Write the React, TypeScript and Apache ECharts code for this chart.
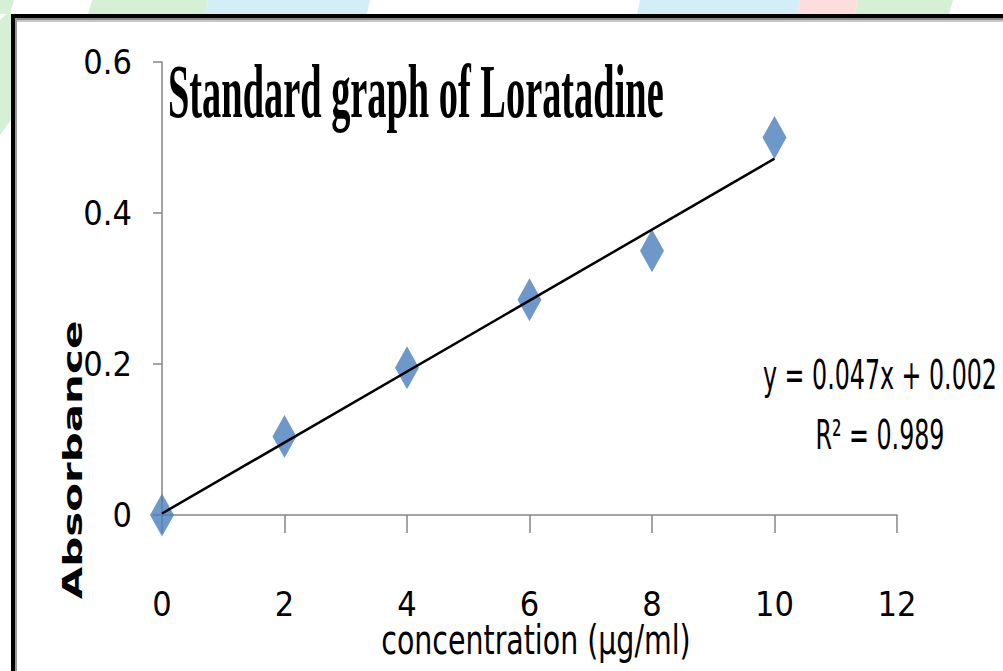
import React, { useEffect, useRef } from "react";
import * as echarts from "echarts";

const concentration = [0, 2, 4, 6, 8, 10];
const absorbance = [0, 0.104, 0.195, 0.285, 0.35, 0.5];
const trendX = [0, 10];
const trendY = [0.002, 0.472];
const xTicks = { min: 0, max: 12, interval: 2 };
const yTicks = { min: 0, max: 0.6, interval: 0.2 };
const titleText = "Standard graph of Loratadine";
const equationText = "y = 0.047x + 0.002";
const r2Text = "R\u00b2 = 0.989";
const xName = "concentration (\u00b5g/ml)";
const yName = "Absorbance";

export default function App() {
  const ref = useRef<HTMLDivElement>(null);
  useEffect(() => {
    if (!ref.current) return;
    const chart = echarts.init(ref.current, null, { renderer: "svg" });
    const narrow = "'Liberation Sans Narrow', 'DejaVu Sans Condensed', 'DejaVu Sans', sans-serif";
    const axisGray = "#868686";
    chart.setOption({
      animation: false,
      backgroundColor: "#ffffff",
      grid: { left: 162, top: 62, right: 106, bottom: 156, containLabel: false },
      xAxis: {
        type: "value",
        min: xTicks.min,
        max: xTicks.max,
        interval: xTicks.interval,
        axisLine: { show: true, onZero: false, lineStyle: { color: axisGray, width: 1.5 } },
        axisTick: { show: true, length: 18, lineStyle: { color: axisGray, width: 1.5 } },
        splitLine: { show: false },
        axisLabel: { color: "#000", fontFamily: narrow, fontSize: 34, margin: 72 },
      },
      yAxis: {
        type: "value",
        min: yTicks.min,
        max: yTicks.max,
        interval: yTicks.interval,
        axisLine: { show: true, lineStyle: { color: axisGray, width: 1.5 } },
        axisTick: { show: true, length: 9, lineStyle: { color: axisGray, width: 1.5 } },
        splitLine: { show: false },
        axisLabel: { color: "#000", fontFamily: narrow, fontSize: 34, margin: 30 },
      },
      series: [
        {
          type: "scatter",
          data: concentration.map((x, i) => [x, absorbance[i]]),
          symbol: "diamond",
          symbolSize: [24, 43],
          itemStyle: { color: "#4a7ebb" },
          z: 2,
        },
        {
          type: "line",
          data: trendX.map((x, i) => [x, trendY[i]]),
          showSymbol: false,
          symbol: "none",
          lineStyle: { color: "#000", width: 2.5 },
          z: 3,
        },
      ],
      graphic: [
        // watermark strip above the frame
        { type: "polygon", z: -10, shape: { points: [[92, 0], [208, 0], [205, 14], [88, 14]] }, style: { fill: "#d6f0d6" } },
        { type: "polygon", z: -10, shape: { points: [[208, 0], [370, 0], [367, 14], [205, 14]] }, style: { fill: "#d2eef6" } },
        { type: "polygon", z: -10, shape: { points: [[640, 0], [800, 0], [797, 14], [637, 14]] }, style: { fill: "#d2eef6" } },
        { type: "polygon", z: -10, shape: { points: [[800, 0], [858, 0], [855, 14], [797, 14]] }, style: { fill: "#fddede" } },
        { type: "polygon", z: -10, shape: { points: [[858, 0], [953, 0], [949, 14], [855, 14]] }, style: { fill: "#d6f0d6" } },
        { type: "polygon", z: -10, shape: { points: [[0, 20], [11, 10], [11, 120], [0, 135]] }, style: { fill: "#d6f0d6" } },
        { type: "polygon", z: -10, shape: { points: [[0, 0], [14, 0], [10, 14], [0, 14]] }, style: { fill: "#d6f0d6" } },
        // frame
        { type: "rect", z: 5, shape: { x: 11, y: 14, width: 1000, height: 4 }, style: { fill: "#000" } },
        { type: "rect", z: 5, shape: { x: 15, y: 18, width: 1000, height: 2 }, style: { fill: "#8a8a8a" } },
        { type: "rect", z: 5, shape: { x: 15, y: 20, width: 1000, height: 2 }, style: { fill: "#c8c8c8" } },
        { type: "rect", z: 5, shape: { x: 11, y: 14, width: 4, height: 700 }, style: { fill: "#000" } },
        { type: "rect", z: 5, shape: { x: 15, y: 18, width: 2, height: 700 }, style: { fill: "#9a9a9a" } },
        // title
        {
          type: "text",
          z: 10,
          x: 168,
          y: 91,
          scaleX: 0.505,
          style: {
            text: titleText,
            fontFamily: "'Liberation Serif', 'Times New Roman', serif",
            fontWeight: "bold",
            fontSize: 76,
            fill: "#000",
            align: "left",
            verticalAlign: "middle",
          },
        },
        // y axis name
        {
          type: "text",
          z: 10,
          x: 72,
          y: 460,
          rotation: Math.PI / 2,
          scaleY: 0.64,
          style: {
            text: yName,
            fontFamily: "'DejaVu Sans', Verdana, sans-serif",
            fontWeight: "bold",
            fontSize: 42,
            fill: "#000",
            align: "center",
            verticalAlign: "middle",
          },
        },
        // x axis name
        {
          type: "text",
          z: 10,
          x: 536,
          y: 640,
          scaleX: 0.79,
          style: { text: xName, fontFamily: narrow, fontSize: 40, fill: "#000", align: "center", verticalAlign: "middle" },
        },
        // trendline equation
        {
          type: "text",
          z: 10,
          x: 880,
          y: 375,
          scaleX: 0.66,
          style: { text: equationText, fontFamily: narrow, fontSize: 40, fill: "#000", align: "center", verticalAlign: "middle" },
        },
        {
          type: "text",
          z: 10,
          x: 880,
          y: 435,
          scaleX: 0.66,
          style: { text: r2Text, fontFamily: narrow, fontSize: 40, fill: "#000", align: "center", verticalAlign: "middle" },
        },
      ],
    });
    return () => chart.dispose();
  }, []);
  return <div ref={ref} style={{ position: "fixed", left: 0, top: 0, width: 1003, height: 671 }} />;
}
